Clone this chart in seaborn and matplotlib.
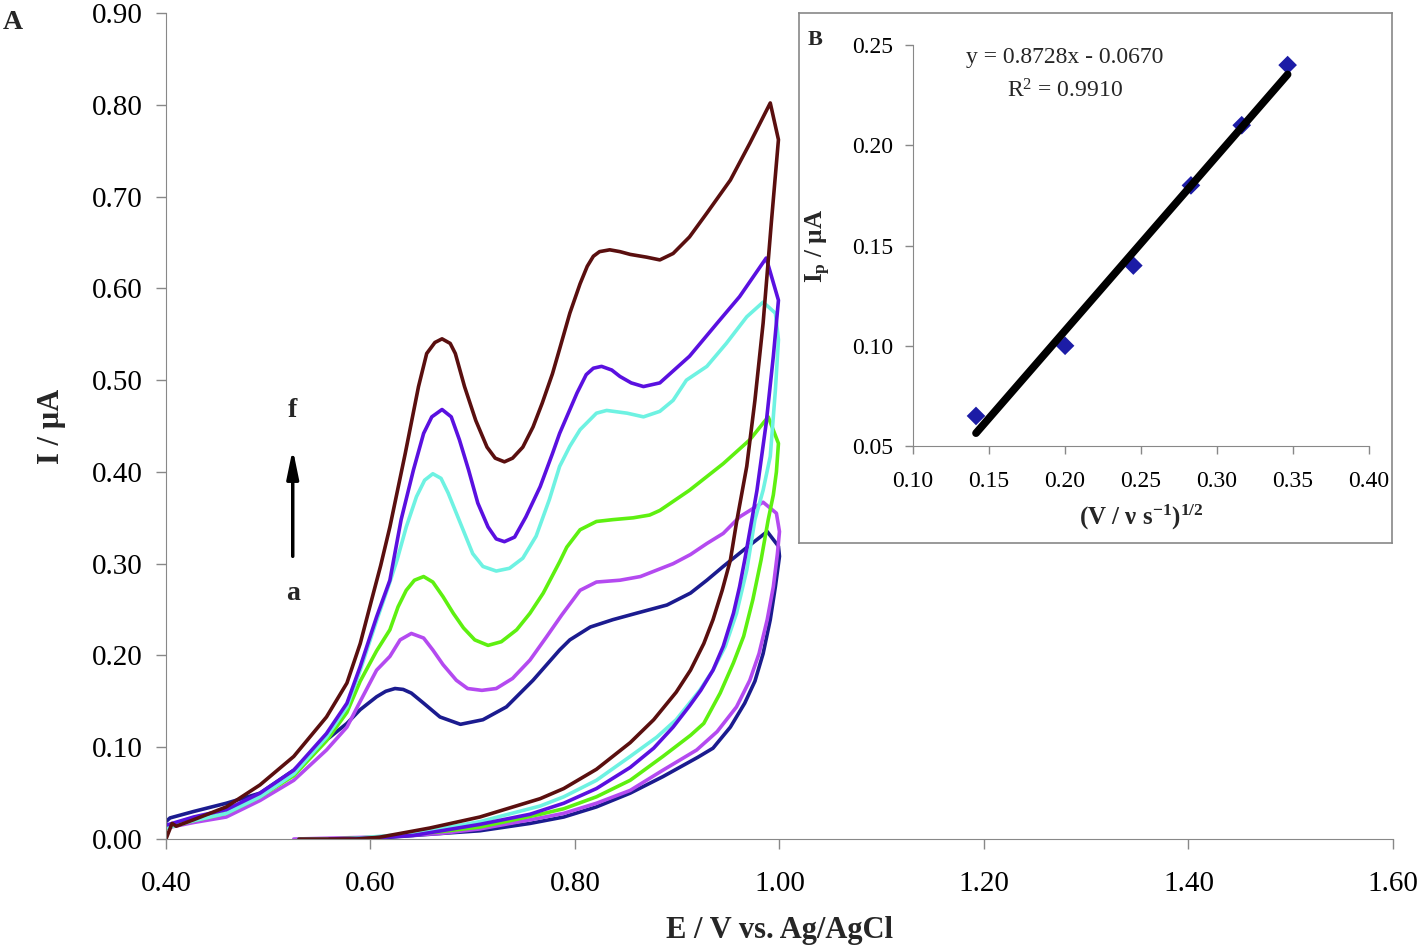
import numpy as np
import pandas as pd
import matplotlib
matplotlib.use('Agg')
import matplotlib.pyplot as plt
import seaborn as sns

# curves a..f : forward scan (with peaks) then reverse scan
a_E_fwd = [0.400, 0.404, 0.427, 0.459, 0.492, 0.525, 0.557, 0.577, 0.590, 0.606, 0.615, 0.624, 0.632, 0.640, 0.652,
           0.668, 0.688, 0.710, 0.733, 0.759, 0.785, 0.795, 0.815, 0.837, 0.860, 0.890, 0.913, 0.929, 0.945, 0.965,
           0.988, 0.999, 1.000]
a_I_fwd = [0.019, 0.023, 0.030, 0.039, 0.050, 0.075, 0.108, 0.126, 0.141, 0.155, 0.161, 0.164, 0.163, 0.159, 0.148,
           0.133, 0.125, 0.130, 0.144, 0.173, 0.206, 0.217, 0.231, 0.239, 0.246, 0.255, 0.268, 0.282, 0.297, 0.315,
           0.335, 0.319, 0.308]
a_E_rev = [0.996, 0.991, 0.984, 0.976, 0.966, 0.952, 0.935, 0.920, 0.886, 0.854, 0.821, 0.789, 0.756, 0.707, 0.668,
           0.607, 0.550]
a_I_rev = [0.275, 0.239, 0.202, 0.172, 0.148, 0.122, 0.099, 0.089, 0.068, 0.050, 0.035, 0.024, 0.017, 0.009, 0.006,
           0.001, 0.000]

b_E_fwd = [0.400, 0.427, 0.459, 0.492, 0.525, 0.557, 0.577, 0.590, 0.606, 0.619, 0.629, 0.640, 0.652, 0.661, 0.671,
           0.684, 0.695, 0.709, 0.723, 0.739, 0.756, 0.772, 0.787, 0.805, 0.821, 0.844, 0.864, 0.896, 0.913, 0.929,
           0.945, 0.961, 0.984, 0.997, 1.000]
b_I_fwd = [0.012, 0.018, 0.024, 0.042, 0.064, 0.097, 0.122, 0.150, 0.184, 0.199, 0.217, 0.224, 0.219, 0.206, 0.190,
           0.173, 0.164, 0.162, 0.164, 0.175, 0.195, 0.220, 0.244, 0.271, 0.280, 0.282, 0.286, 0.300, 0.310, 0.322,
           0.333, 0.351, 0.367, 0.355, 0.335]
b_E_rev = [0.998, 0.994, 0.988, 0.980, 0.971, 0.958, 0.939, 0.919, 0.886, 0.854, 0.821, 0.789, 0.766, 0.707, 0.668,
           0.600, 0.525]
b_I_rev = [0.311, 0.275, 0.239, 0.202, 0.173, 0.144, 0.117, 0.097, 0.075, 0.053, 0.039, 0.028, 0.023, 0.011, 0.006,
           0.002, 0.000]

c_E_fwd = [0.400, 0.427, 0.459, 0.492, 0.525, 0.557, 0.577, 0.590, 0.606, 0.619, 0.627, 0.635, 0.643, 0.652, 0.661,
           0.671, 0.681, 0.691, 0.702, 0.715, 0.728, 0.743, 0.756, 0.769, 0.785, 0.792, 0.805, 0.821, 0.837, 0.857,
           0.873, 0.883, 0.912, 0.945, 0.971, 0.989, 0.999]
c_I_fwd = [0.012, 0.020, 0.028, 0.046, 0.069, 0.107, 0.138, 0.172, 0.205, 0.228, 0.253, 0.271, 0.282, 0.286, 0.280,
           0.264, 0.246, 0.230, 0.217, 0.211, 0.215, 0.228, 0.246, 0.268, 0.302, 0.318, 0.337, 0.346, 0.348, 0.350,
           0.353, 0.358, 0.380, 0.409, 0.435, 0.460, 0.431]
c_E_rev = [0.997, 0.994, 0.989, 0.982, 0.974, 0.965, 0.955, 0.942, 0.926, 0.913, 0.886, 0.854, 0.821, 0.789, 0.766,
           0.707, 0.668, 0.607, 0.560]
c_I_rev = [0.400, 0.375, 0.348, 0.304, 0.261, 0.221, 0.192, 0.159, 0.126, 0.113, 0.090, 0.064, 0.046, 0.033, 0.027,
           0.013, 0.008, 0.002, 0.000]

d_E_fwd = [0.400, 0.427, 0.459, 0.492, 0.525, 0.557, 0.577, 0.590, 0.606, 0.619, 0.626, 0.635, 0.645, 0.653, 0.661,
           0.669, 0.676, 0.684, 0.692, 0.700, 0.710, 0.723, 0.736, 0.749, 0.762, 0.775, 0.785, 0.795, 0.805, 0.821,
           0.831, 0.851, 0.867, 0.883, 0.896, 0.909, 0.929, 0.948, 0.968, 0.984, 0.996, 0.999]
d_I_fwd = [0.012, 0.020, 0.028, 0.046, 0.071, 0.111, 0.144, 0.184, 0.238, 0.280, 0.304, 0.340, 0.373, 0.391, 0.398,
           0.393, 0.377, 0.355, 0.333, 0.311, 0.297, 0.292, 0.295, 0.306, 0.330, 0.370, 0.406, 0.428, 0.446, 0.464,
           0.467, 0.464, 0.460, 0.466, 0.478, 0.500, 0.515, 0.540, 0.569, 0.585, 0.573, 0.544]
d_E_rev = [0.996, 0.991, 0.984, 0.976, 0.968, 0.958, 0.947, 0.935, 0.922, 0.899, 0.880, 0.854, 0.821, 0.789, 0.766,
           0.707, 0.642, 0.577, 0.530]
d_I_rev = [0.489, 0.417, 0.380, 0.348, 0.293, 0.246, 0.210, 0.184, 0.162, 0.130, 0.111, 0.090, 0.064, 0.046, 0.036,
           0.019, 0.006, 0.000, 0.000]

e_E_fwd = [0.400, 0.427, 0.459, 0.492, 0.525, 0.557, 0.577, 0.590, 0.606, 0.619, 0.630, 0.642, 0.652, 0.660, 0.670,
           0.679, 0.687, 0.696, 0.705, 0.715, 0.723, 0.731, 0.741, 0.752, 0.766, 0.778, 0.785, 0.802, 0.811, 0.818,
           0.826, 0.836, 0.844, 0.855, 0.867, 0.883, 0.912, 0.939, 0.961, 0.987, 0.999]
e_I_fwd = [0.015, 0.024, 0.032, 0.050, 0.075, 0.115, 0.148, 0.188, 0.242, 0.282, 0.348, 0.402, 0.442, 0.460, 0.468,
           0.460, 0.435, 0.402, 0.366, 0.340, 0.327, 0.324, 0.329, 0.351, 0.384, 0.420, 0.442, 0.486, 0.506, 0.513,
           0.515, 0.511, 0.504, 0.497, 0.493, 0.497, 0.526, 0.562, 0.591, 0.633, 0.587]
e_E_rev = [0.994, 0.987, 0.978, 0.973, 0.966, 0.961, 0.955, 0.945, 0.935, 0.923, 0.912, 0.896, 0.877, 0.854, 0.821,
           0.789, 0.756, 0.707, 0.642, 0.600, 0.560]
e_I_rev = [0.526, 0.453, 0.380, 0.348, 0.304, 0.275, 0.246, 0.210, 0.184, 0.162, 0.145, 0.122, 0.099, 0.078, 0.055,
           0.039, 0.027, 0.016, 0.004, 0.001, 0.000]

f_E_fwd = [0.400, 0.406, 0.410, 0.427, 0.459, 0.492, 0.525, 0.557, 0.577, 0.590, 0.601, 0.610, 0.619, 0.634, 0.647,
           0.655, 0.663, 0.670, 0.678, 0.683, 0.692, 0.703, 0.714, 0.722, 0.731, 0.739, 0.749, 0.759, 0.768, 0.778,
           0.785, 0.795, 0.805, 0.812, 0.818, 0.824, 0.834, 0.844, 0.854, 0.870, 0.883, 0.896, 0.912, 0.929, 0.952,
           0.971, 0.991, 0.999]
f_I_fwd = [0.000, 0.017, 0.014, 0.021, 0.035, 0.059, 0.090, 0.133, 0.170, 0.213, 0.260, 0.298, 0.340, 0.420, 0.493,
           0.529, 0.541, 0.545, 0.540, 0.529, 0.493, 0.456, 0.427, 0.415, 0.411, 0.415, 0.427, 0.449, 0.475, 0.507,
           0.534, 0.573, 0.605, 0.624, 0.635, 0.640, 0.642, 0.640, 0.637, 0.634, 0.631, 0.638, 0.656, 0.682, 0.718,
           0.758, 0.802, 0.762]
f_E_rev = [0.992, 0.984, 0.976, 0.968, 0.958, 0.952, 0.944, 0.935, 0.926, 0.913, 0.899, 0.877, 0.854, 0.821, 0.789,
           0.766, 0.707, 0.658, 0.609, 0.586, 0.530]
f_I_rev = [0.671, 0.562, 0.478, 0.406, 0.345, 0.304, 0.271, 0.239, 0.213, 0.184, 0.160, 0.130, 0.105, 0.076, 0.055,
           0.044, 0.024, 0.012, 0.002, 0.000, 0.000]

curve_names = ['a', 'b', 'c', 'd', 'e', 'f']
curve_colors = ['#1b1b8f', '#b44af0', '#5ef010', '#6ef2e2', '#5a10e0', '#5a0f0f']

# inset B
sqrt_rate = [0.1414, 0.2000, 0.2449, 0.2828, 0.3162, 0.3464]
peak_current = [0.065, 0.100, 0.140, 0.180, 0.210, 0.240]
fit_slope = 0.8728
fit_intercept = -0.0670

sns.set_style('ticks')
plt.rcParams['font.family'] = ['Liberation Serif', 'DejaVu Serif']
plt.rcParams['mathtext.fontset'] = 'custom'
plt.rcParams['mathtext.rm'] = 'Liberation Serif'
plt.rcParams['mathtext.bf'] = 'Liberation Serif:bold'
plt.rcParams['mathtext.default'] = 'regular'

rows = []
data_sets = [(a_E_fwd + a_E_rev, a_I_fwd + a_I_rev), (b_E_fwd + b_E_rev, b_I_fwd + b_I_rev),
             (c_E_fwd + c_E_rev, c_I_fwd + c_I_rev), (d_E_fwd + d_E_rev, d_I_fwd + d_I_rev),
             (e_E_fwd + e_E_rev, e_I_fwd + e_I_rev), (f_E_fwd + f_E_rev, f_I_fwd + f_I_rev)]
for name, (E, I) in zip(curve_names, data_sets):
    for ev, iv in zip(E, I):
        rows.append({'E': ev, 'I': iv, 'curve': name})
df = pd.DataFrame(rows)

fig = plt.figure(figsize=(14.22, 9.5), dpi=100)
ax = fig.add_axes([0.1167, 0.1168, 0.8629, 0.8695])
sns.lineplot(data=df, x='E', y='I', hue='curve', units='curve', sort=False, estimator=None,
             palette=dict(zip(curve_names, curve_colors)), linewidth=2.6, legend=False, ax=ax)

ax.set_xlim(0.40, 1.60)
ax.set_ylim(0.0, 0.90)
ax.set_xticks(np.arange(0.40, 1.601, 0.20))
ax.set_yticks(np.arange(0.0, 0.901, 0.10))
ax.xaxis.set_major_formatter(matplotlib.ticker.FormatStrFormatter('%.2f'))
ax.yaxis.set_major_formatter(matplotlib.ticker.FormatStrFormatter('%.2f'))
ax.tick_params(axis='both', labelsize=21, colors='#888888', labelcolor='black', length=7, width=1)
ax.tick_params(axis='x', pad=16)
ax.tick_params(axis='y', pad=10)
for s in ['top', 'right']:
    ax.spines[s].set_visible(False)
for s in ['left', 'bottom']:
    ax.spines[s].set_color('#888888')
ax.set_xlabel('E / V vs. Ag/AgCl', fontsize=22, fontweight='bold', labelpad=14)
ax.set_ylabel('I / µA', fontsize=22, fontweight='bold', labelpad=18)

ax.annotate('', xy=(0.524, 0.428), xytext=(0.524, 0.305),
            arrowprops=dict(arrowstyle='-|>,head_length=1.7,head_width=0.35', color='black', lw=2.5))
ax.text(0.524, 0.467, 'f', fontsize=20, fontweight='bold', ha='center', va='center')
ax.text(0.524, 0.267, 'a', fontsize=20, fontweight='bold', ha='center', va='center')
fig.text(0.002, 0.976, 'A', fontsize=20, fontweight='bold', ha='left', va='center')

# inset frame + inset axes
box = fig.add_axes([0.5619, 0.4284, 0.417, 0.558])
box.set_xticks([])
box.set_yticks([])
box.set_facecolor('white')
for s in box.spines.values():
    s.set_color('#888888')
    s.set_linewidth(1.2)

ins = fig.add_axes([0.6421, 0.5305, 0.3207, 0.4221])
ins.set_facecolor('none')
fit_x = np.array([sqrt_rate[0], sqrt_rate[-1]])
ins.plot(fit_x, fit_slope * fit_x + fit_intercept, color='black', lw=5.5, solid_capstyle='round', zorder=3)
sns.scatterplot(x=sqrt_rate, y=peak_current, marker='D', s=90, color='#1c1ca6', edgecolor='none',
                ax=ins, zorder=2)
ins.set_xlim(0.10, 0.40)
ins.set_ylim(0.05, 0.25)
ins.set_xticks(np.arange(0.10, 0.401, 0.05))
ins.set_yticks(np.arange(0.05, 0.251, 0.05))
ins.xaxis.set_major_formatter(matplotlib.ticker.FormatStrFormatter('%.2f'))
ins.yaxis.set_major_formatter(matplotlib.ticker.FormatStrFormatter('%.2f'))
ins.tick_params(axis='both', labelsize=17, colors='#888888', labelcolor='black', length=6, width=1)
ins.tick_params(axis='x', pad=12)
ins.tick_params(axis='y', pad=8)
for s in ['top', 'right']:
    ins.spines[s].set_visible(False)
for s in ['left', 'bottom']:
    ins.spines[s].set_color('#888888')
ins.set_xlabel(r'(V / ν s$^{\mathbf{-1}}$)$^{\mathbf{1/2}}$', fontsize=18, fontweight='bold', labelpad=8)
ins.set_ylabel(r'I$_{\mathbf{p}}$ / µA', fontsize=18, fontweight='bold', labelpad=14)
ins.text(0.20, 0.244, 'y = 0.8728x - 0.0670', fontsize=17, ha='center', va='center')
ins.text(0.20, 0.227, r'R$^{2}$ = 0.9910', fontsize=17, ha='center', va='center')
fig.text(0.568, 0.958, 'B', fontsize=16, fontweight='bold', ha='left', va='center')

fig.savefig('out.png', dpi=100)
